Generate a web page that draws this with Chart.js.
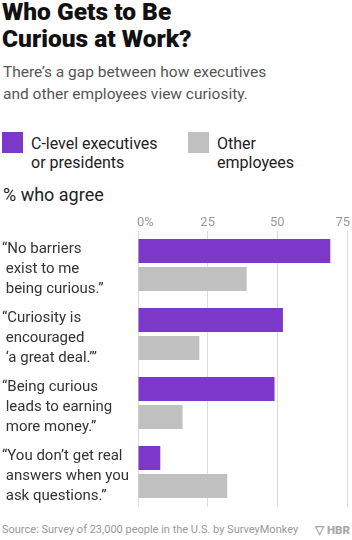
<!DOCTYPE html>
<html>
<head>
<meta charset="utf-8">
<script src="https://cdn.jsdelivr.net/npm/chart.js@4"></script>
<style>
  html, body { margin: 0; padding: 0; background: #fff; }
  body { width: 352px; height: 540px; position: relative; overflow: hidden; font-family: Roboto, "Noto Sans", sans-serif; }
  .abs { position: absolute; white-space: nowrap; }
  #title { top: -2px; left: 2px; font-size: 24.5px; line-height: 27px; font-weight: 900; color: #111; }
  #subtitle { top: 61px; left: 3px; font-size: 15.5px; line-height: 22px; color: #555; font-weight: 400; }
  .sw { position: absolute; width: 21px; height: 21px; top: 132px; }
  .lg { top: 134px; font-size: 16px; line-height: 19px; color: #222; }
  #axt { top: 184px; left: 3px; font-size: 18px; line-height: 22px; color: #222; }
  #src { top: 522px; left: 2px; font-size: 11px; line-height: 16px; color: #999; }
  #hbr { top: 522px; right: 2px; font-size: 11.5px; line-height: 16px; color: #aaa; font-weight: 900; }
  #wrap { position: absolute; left: 0; top: 210px; width: 352px; height: 300px; }
</style>
</head>
<body>
<div id="title" class="abs">Who Gets to Be<br>Curious at Work?</div>
<div id="subtitle" class="abs">There’s a gap between how executives<br>and other employees view curiosity.</div>
<div class="sw" id="sw1" style="left:2px;"></div>
<div class="abs lg" id="lg1" style="left:31px;"></div>
<div class="sw" id="sw2" style="left:188px;"></div>
<div class="abs lg" id="lg2" style="left:217px;"></div>
<div id="axt" class="abs">% who agree</div>
<div id="src" class="abs">Source: Survey of 23,000 people in the U.S. by SurveyMonkey</div>
<div id="hbr" class="abs">▽ HBR</div>
<div id="wrap"><canvas id="c" width="352" height="300"></canvas></div>
<script>
const categories = [
  ["“No barriers", " exist to me", " being curious.”"],
  ["“Curiosity is", " encouraged", " ‘a great deal.’”"],
  ["“Being curious", " leads to earning", " more money.”"],
  ["“You don’t get real", " answers when you", " ask questions.”"]
];
const seriesNames = [["C-level executives", "or presidents"], ["Other", "employees"]];
const execValues = [69, 52, 49, 8];
const otherValues = [39, 22, 16, 32];
const tickValues = [0, 25, 50, 75];
const tickLabels = ["0%", "25", "50", "75"];

const PURPLE = "#7b38c9";
const GRAY = "#c0c0c0";

document.getElementById("sw1").style.background = PURPLE;
document.getElementById("sw2").style.background = GRAY;
document.getElementById("lg1").innerHTML = seriesNames[0].join("<br>");
document.getElementById("lg2").innerHTML = seriesNames[1].join("<br>");

const topTicks = {
  id: "topTicks",
  afterDraw(chart) {
    const ctx = chart.ctx;
    const xs = chart.scales.x;
    const y = chart.chartArea.top - 1;
    ctx.save();
    ctx.font = "400 13px Roboto, sans-serif";
    ctx.fillStyle = "#999";
    ctx.textBaseline = "bottom";
    tickValues.forEach((v, i) => {
      const px = xs.getPixelForValue(v);
      const label = tickLabels[i];
      if (i === 0) {
        ctx.textAlign = "left";
        ctx.fillText(label, px - 1, y);
      } else {
        const w = ctx.measureText(label).width;
        let cx = px;
        if (cx + w / 2 > chart.width - 2) cx = chart.width - 2 - w / 2;
        ctx.textAlign = "center";
        ctx.fillText(label, cx, y);
      }
    });
    ctx.restore();
  }
};

new Chart(document.getElementById("c"), {
  type: "bar",
  data: {
    labels: categories,
    datasets: [
      { label: seriesNames[0].join(" "), data: execValues, backgroundColor: PURPLE, categoryPercentage: 0.81, barPercentage: 0.86 },
      { label: seriesNames[1].join(" "), data: otherValues, backgroundColor: GRAY, categoryPercentage: 0.81, barPercentage: 0.86 }
    ]
  },
  options: {
    indexAxis: "y",
    responsive: false,
    animation: false,
    devicePixelRatio: 1,
    layout: { padding: { top: 20.5, bottom: 3.5, left: 2, right: 5 } },
    plugins: { legend: { display: false }, tooltip: { enabled: false } },
    scales: {
      x: {
        position: "top",
        min: 0, max: 75,
        afterBuildTicks(scale) { scale.ticks = tickValues.map(v => ({ value: v })); },
        afterFit(scale) { scale.paddingLeft = 0; scale.paddingRight = 0; },
        ticks: { display: false },
        grid: { color: "#dcdcdc", lineWidth: 1, drawTicks: false },
        border: { display: false }
      },
      y: {
        position: "left",
        afterFit(scale) { scale.width = 136; scale.paddingTop = 0; scale.paddingBottom = 0; },
        ticks: {
          crossAlign: "far",
          color: "#333",
          padding: 6,
          labelOffset: 4,
          font: { family: "Roboto, sans-serif", size: 15, weight: "400", lineHeight: 1.34 }
        },
        grid: { display: false },
        border: { display: false }
      }
    }
  },
  plugins: [topTicks]
});
</script>
</body>
</html>
